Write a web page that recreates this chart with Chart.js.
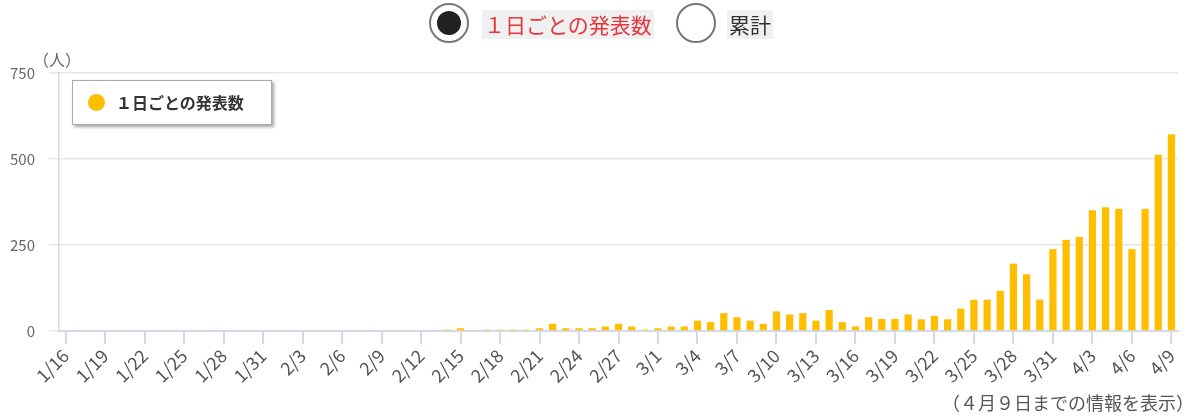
<!DOCTYPE html>
<html>
  <head>
    <meta charset="UTF-8">
    <title>1日ごとの発表数</title>
    <script src="https://cdn.jsdelivr.net/npm/chart.js@4.4.0/dist/chart.umd.min.js"></script>
    <style>
      body { margin: 0; background: #fff; font-family: 'Noto Sans CJK JP', sans-serif; }
      #wrap { position: relative; width: 1200px; height: 416px; overflow: hidden; }
      #chartBox { position: absolute; left: 0; top: 0; width: 1200px; height: 416px; }
      .radio { position: absolute; top: 3px; width: 36px; height: 36px; border: 2px solid #777; border-radius: 50%; }
      .radio.on::after { content: ''; position: absolute; left: 6px; top: 6px; width: 24px; height: 24px; border-radius: 50%; background: #222; }
      .opt { position: absolute; top: 10px; height: 29px; line-height: 29px; font-size: 21px; background: #f0f0f0; padding: 0 2px; }
      #unit { position: absolute; left: 33px; top: 47px; font-size: 16px; color: #666; }
      #note { position: absolute; right: 6px; top: 389px; font-size: 18px; color: #555; }
      #legend { position: absolute; left: 72px; top: 80px; width: 198px; height: 43px; border: 1px solid #aaa;
                box-shadow: 2px 2px 3px rgba(0,0,0,0.35); background: #fff; }
      #legend .dot { position: absolute; left: 15px; top: 13px; width: 17px; height: 17px; border-radius: 50%; }
      #legend .txt { position: absolute; left: 43px; top: 0; line-height: 43px; font-size: 16px; font-weight: bold; color: #333; }
    </style>
  </head>
  <body>
    <div id="wrap">
      <div id="chartBox"><canvas id="dailyChart"></canvas></div>
      <div class="radio on" style="left:429px"></div>
      <div class="opt" style="left:482px; color:#e8343a">１日ごとの発表数</div>
      <div class="radio" style="left:676px"></div>
      <div class="opt" style="left:727px; color:#333">累計</div>
      <div id="unit">（人）</div>
      <div id="legend"><span class="dot"></span><span class="txt"></span></div>
      <div id="note">（４月９日までの情報を表示）</div>
    </div>

    <script>
      const dates = [
        '1/16','1/17','1/18','1/19','1/20','1/21','1/22','1/23','1/24','1/25','1/26','1/27','1/28','1/29','1/30','1/31',
        '2/1','2/2','2/3','2/4','2/5','2/6','2/7','2/8','2/9','2/10','2/11','2/12','2/13','2/14','2/15','2/16','2/17',
        '2/18','2/19','2/20','2/21','2/22','2/23','2/24','2/25','2/26','2/27','2/28','2/29',
        '3/1','3/2','3/3','3/4','3/5','3/6','3/7','3/8','3/9','3/10','3/11','3/12','3/13','3/14','3/15','3/16',
        '3/17','3/18','3/19','3/20','3/21','3/22','3/23','3/24','3/25','3/26','3/27','3/28','3/29','3/30','3/31',
        '4/1','4/2','4/3','4/4','4/5','4/6','4/7','4/8','4/9'
      ];

      // daily announced cases
      const daily = [
        0, 0, 0, 0, 0, 0, 0, 0, 0, 0, 0, 0, 0, 0, 0, 0,
        0, 0, 0, 0, 0, 0, 0, 0, 0, 0, 0, 0, 0, 4, 8, 0, 4,
        4, 4, 4, 8, 21, 8, 8, 8, 13, 21, 13, 4,
        8, 13, 13, 30, 26, 52, 40, 30, 21, 57, 48, 52, 30, 61, 26, 13,
        40, 35, 35, 48, 34, 44, 34, 65, 91, 91, 117, 196, 165, 91, 238,
        265, 273, 351, 360, 355, 238, 355, 512, 572
      ];

      const yTicks = [0, 250, 500, 750];
      const seriesLabel = '１日ごとの発表数';
      const barColor = '#ffbf00';

      document.querySelector('#legend .dot').style.background = barColor;
      document.querySelector('#legend .txt').textContent = seriesLabel;

      const axisBlue = '#d3dbeb';
      const ctx = document.getElementById('dailyChart').getContext('2d');

      const chart = new Chart(ctx, {
        type: 'bar',
        data: {
          labels: dates,
          datasets: [{
            label: seriesLabel,
            data: daily,
            backgroundColor: barColor,
            barPercentage: 0.55,
            categoryPercentage: 1.0
          }]
        },
        options: {
          responsive: true,
          maintainAspectRatio: false,
          animation: false,
          layout: { padding: { top: 73, right: 22, left: 0, bottom: 0 } },
          plugins: {
            legend: { display: false },
            tooltip: { enabled: false }
          },
          scales: {
            x: {
              offset: true,
              grid: {
                offset: false,
                drawOnChartArea: false,
                tickLength: 13,
                lineWidth: 2,
                color: (c) => (c.index % 3 === 0 ? axisBlue : 'rgba(0,0,0,0)')
              },
              border: { color: axisBlue, width: 2 },
              ticks: {
                autoSkip: false,
                maxRotation: 45,
                minRotation: 45,
                padding: 1,
                color: '#555',
                font: { family: "'Noto Sans CJK JP', sans-serif", size: 18 },
                callback: function (value, index) {
                  return index % 3 === 0 ? this.getLabelForValue(value) : '';
                }
              },
              afterFit: (scale) => { scale.height = 85; }
            },
            y: {
              min: yTicks[0],
              max: yTicks[yTicks.length - 1],
              afterBuildTicks: (scale) => { scale.ticks = yTicks.map(v => ({ value: v })); },
              grid: { color: '#e6e6e6', lineWidth: 1.5, tickLength: 10 },
              border: { color: axisBlue, width: 1.5 },
              ticks: {
                padding: 14,
                color: '#666',
                font: { family: "'Noto Sans CJK JP', sans-serif", size: 15 }
              },
              afterFit: (scale) => { scale.width = 59; }
            }
          }
        }
      });
    </script>
  </body>
</html>
